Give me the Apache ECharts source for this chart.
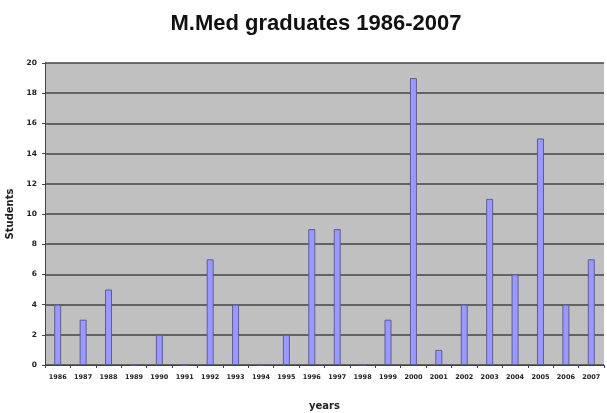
<!DOCTYPE html>
<html>
<head>
<meta charset="utf-8">
<script src="https://cdn.jsdelivr.net/npm/echarts@6/dist/echarts.min.js"></script>
<style>
  html, body { margin: 0; padding: 0; background: #fff; }
  #main { width: 607px; height: 413px; }
</style>
</head>
<body>
<div id="main"></div>
<script>
// years on the x axis
var years = ['1986', '1987', '1988', '1989', '1990', '1991', '1992', '1993', '1994', '1995', '1996',
  '1997', '1998', '1999', '2000', '2001', '2002', '2003', '2004', '2005', '2006', '2007']
// number of graduates per year
var students = [4, 3, 5, 0, 2, 0, 7, 4, 0, 2, 9, 9, 0, 3, 19, 1, 4, 11, 6, 15, 4, 7]

var myChart = echarts.init(document.getElementById('main'))
myChart.setOption({
  animation: false,
  title: {
    text: 'M.Med graduates 1986-2007',
    left: 311,
    top: 8,
    textAlign: 'center',
    textStyle: { fontFamily: 'Liberation Sans', fontSize: 22, fontWeight: 'bold', color: '#111' }
  },
  grid: {
    left: 45,
    right: 3,
    top: 63,
    bottom: 48,
    outerBoundsMode: 'none',
    containLabel: false,
    show: true,
    backgroundColor: '#c0c0c0',
    borderWidth: 0
  },
  xAxis: {
    type: 'category',
    data: years,
    name: 'years',
    nameLocation: 'middle',
    nameGap: 36,
    nameTextStyle: { fontFamily: 'DejaVu Sans', fontSize: 10, fontWeight: 'bold', color: '#222' },
    axisLine: { lineStyle: { color: '#444', width: 1 } },
    axisTick: { show: true, length: 3, lineStyle: { color: '#444' } },
    axisLabel: { fontFamily: 'DejaVu Sans', fontSize: 6.5, fontWeight: 'bold', color: '#222', margin: 9, interval: 0 }
  },
  yAxis: {
    type: 'value',
    min: 0,
    max: 20,
    interval: 2,
    name: 'Students',
    nameLocation: 'middle',
    nameGap: 29,
    nameTextStyle: { fontFamily: 'DejaVu Sans', fontSize: 10, fontWeight: 'bold', color: '#222' },
    axisLine: { show: true, lineStyle: { color: '#444', width: 1 } },
    axisTick: { show: true, length: 3, lineStyle: { color: '#444' } },
    axisLabel: { fontFamily: 'DejaVu Sans', fontSize: 7.5, fontWeight: 'bold', color: '#222', margin: 8 },
    splitLine: { show: true, lineStyle: { color: '#444', width: 1.5 } }
  },
  series: [{
    type: 'bar',
    data: students,
    barWidth: 7,
    itemStyle: { color: '#9999ff', borderColor: '#5c5c99', borderWidth: 1 }
  }]
})
</script>
</body>
</html>
